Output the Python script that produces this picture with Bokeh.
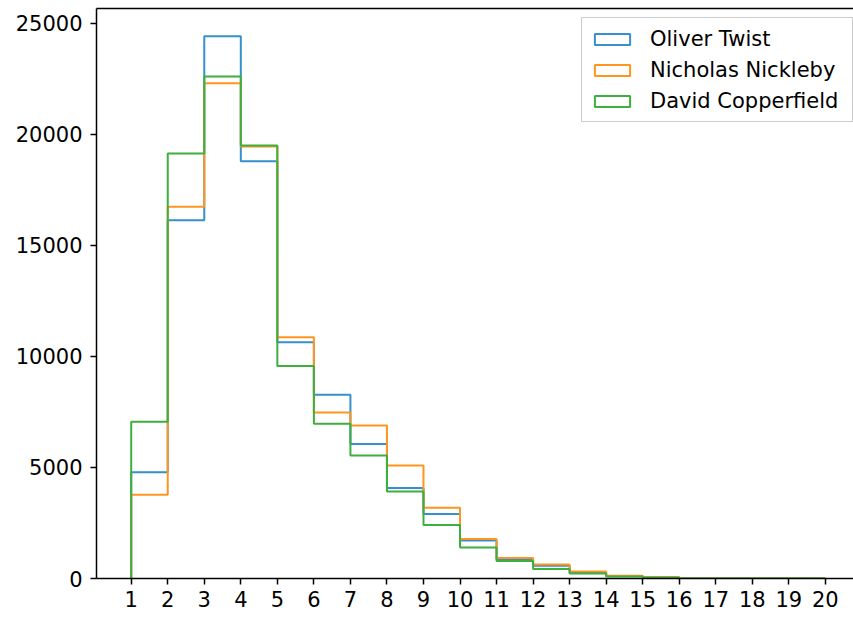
from bokeh.plotting import figure
from bokeh.models import Range1d, LinearAxis, FixedTicker, Legend, LegendItem
from bokeh.embed import file_html
from bokeh.resources import INLINE

# Word-length histogram (bin left edges 1..19, last edge 20)
bin_edges = list(range(1, 21))
oliver_twist = [4780, 16130, 24410, 18780, 10630, 8270, 6060, 4070, 2900, 1710,
                870, 570, 270, 110, 50, 0, 0, 0, 0]
nicholas_nickleby = [3770, 16740, 22300, 19450, 10860, 7470, 6890, 5090, 3185, 1775,
                     920, 630, 320, 120, 55, 0, 0, 0, 0]
david_copperfield = [7060, 19130, 22600, 19490, 9570, 6970, 5540, 3920, 2405, 1400,
                     785, 430, 230, 90, 40, 0, 0, 0, 0]
series_names = ["Oliver Twist", "Nicholas Nickleby", "David Copperfield"]
series_values = [oliver_twist, nicholas_nickleby, david_copperfield]
colors = ["#3590cb", "#ff951f", "#3daf3d"]
x_ticks = list(range(1, 21))
y_ticks = [0, 5000, 10000, 15000, 20000, 25000]

FONT = "DejaVu Sans"

p = figure(width=853, height=618, output_backend="svg", toolbar_location=None,
           x_range=Range1d(0.05, 20.77), y_range=Range1d(0, 25660),
           min_border_left=96, min_border_right=0, min_border_top=8, min_border_bottom=40)
p.outline_line_color = None
p.xgrid.visible = False
p.ygrid.visible = False
p.background_fill_color = "white"
p.border_fill_color = "white"

for ax in (p.xaxis[0], p.yaxis[0]):
    ax.axis_line_color = "black"
    ax.axis_line_width = 1.5
    ax.major_tick_line_color = "black"
    ax.major_tick_line_width = 1.5
    ax.major_tick_out = 6
    ax.major_tick_in = 0
    ax.minor_tick_line_color = None
    ax.major_label_text_font = FONT
    ax.major_label_text_font_size = "21px"
    ax.major_label_text_color = "black"

p.xaxis[0].ticker = FixedTicker(ticks=x_ticks)
p.yaxis[0].ticker = FixedTicker(ticks=y_ticks)
p.xaxis[0].major_label_standoff = 6
p.yaxis[0].major_label_standoff = 8

top_axis = LinearAxis(ticker=FixedTicker(ticks=[]), axis_line_color="black", axis_line_width=1.5,
                      major_tick_line_color=None, minor_tick_line_color=None,
                      major_label_text_font_size="0px", major_label_standoff=0)
p.add_layout(top_axis, "above")

items = []
for name, vals, col in zip(series_names, series_values, colors):
    xs = [bin_edges[0]] + bin_edges
    ys = [0] + vals + [0]
    p.step(xs, ys, mode="after", line_color=col, line_width=2)
    dummy = p.quad(left=[-10], right=[-10], top=[-10], bottom=[-10],
                   fill_color=None, line_color=col, line_width=2)
    items.append(LegendItem(label=name, renderers=[dummy]))

legend = Legend(items=items, location=(485, 456),
                glyph_width=44, glyph_height=14, label_standoff=16,
                padding=8, spacing=6, label_height=25, label_width=194,
                label_text_font=FONT, label_text_font_size="21px", label_text_color="black",
                border_line_color="#cccccc", border_line_width=1.5, border_line_alpha=1,
                background_fill_color="white", background_fill_alpha=0.8)
p.add_layout(legend)

open("out.html", "w").write(file_html(p, INLINE))
